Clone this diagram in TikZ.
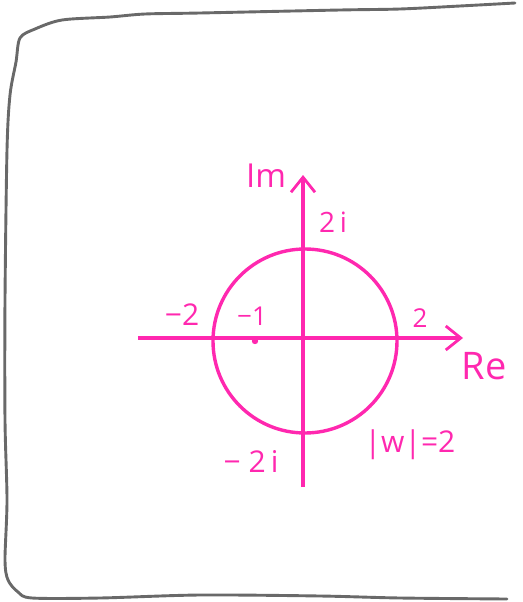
\documentclass[tikz,border=0pt]{standalone}
\usepackage{fontspec}
\setmainfont{Open Sans}
\usetikzlibrary{arrows.meta}
\definecolor{inkpink}{RGB}{255, 40, 175}
\definecolor{framegray}{RGB}{105, 105, 105}

\begin{document}
\begin{tikzpicture}[
    x=1pt, y=-1pt,
    frame/.style={draw=framegray, line width=2.9pt, line join=round, line cap=round},
    axis/.style={draw=inkpink, line width=3.6pt, -{Straight Barb[length=15pt, width=24pt, line width=2.8pt]}},
    lbl/.style={text=inkpink, inner sep=0pt, font=\fontsize{28}{30}\selectfont},
]
\useasboundingbox (0,0) rectangle (522,602);

% Hand-drawn frame
\draw[frame] plot[smooth, tension=0.5] coordinates {
    (515,3) (460,6) (400,9) (340,10) (200,13) (145,14) (110,17) (62,20) (35,29) (20,38)
    (16,62) (10,95) (7,150) (5,300) (5,420) (7,500) (5,560) (8,580) (18,592) (32,598)
    (100,598) (200,595) (320,596) (400,598) (507,599)};

% Axes
\coordinate (O) at (303,338);
\coordinate (reL) at (138,338);
\coordinate (reR) at (463,338);
\coordinate (imB) at (303,487);
\coordinate (imT) at (303,175);
\draw[axis] (reL) -- (reR);
\draw[axis] (imB) -- (imT);

% Circle |w| = 2
\node[circle, draw=inkpink, line width=3.4pt, minimum size=184pt, inner sep=0pt] (wcirc) at (305,341) {};
\fill[inkpink] (255,341) circle (3.2) coordinate (m1);

% Labels
\node[lbl, font=\fontsize{33}{35}\selectfont] (im) at (266,176) {Im};
\node[lbl, font=\fontsize{28}{30}\selectfont] (i2) at (333,222) {2\,i};
\node[lbl, font=\fontsize{30}{32}\selectfont] (n2) at (182,315) {−2};
\node[lbl, font=\fontsize{26}{28}\selectfont] (n1) at (252,316) {−1};
\node[lbl, font=\fontsize{26}{28}\selectfont] (p2) at (420,318) {2};
\node[lbl, font=\fontsize{38}{40}\selectfont] (re) at (484,366) {Re};
\node[lbl, font=\fontsize{30}{32}\selectfont] (mod) at (410,445) {|w|=2};
\node[lbl, font=\fontsize{30}{32}\selectfont] (ni2) at (251,461) {− 2\,i};

\end{tikzpicture}
\end{document}
